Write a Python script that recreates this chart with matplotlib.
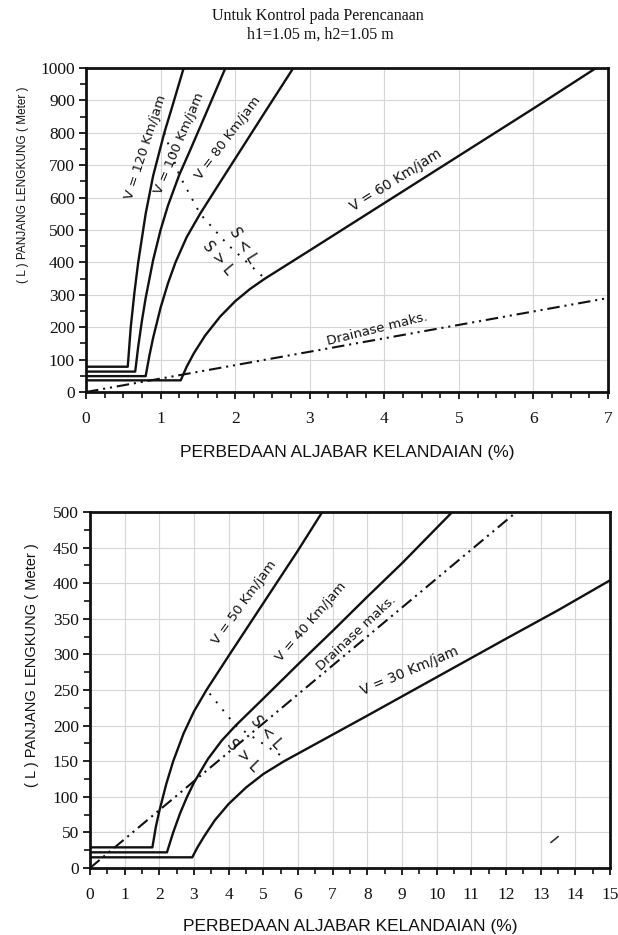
import matplotlib
matplotlib.use("Agg")
import matplotlib.pyplot as plt
from matplotlib.ticker import MultipleLocator

plt.rcParams['lines.scale_dashes'] = False

# ---------------- data ----------------
# Top chart: A (%) vs L (m)
v120_x = [0, 0.56, 0.60, 0.65, 0.70, 0.80, 0.90, 1.05, 1.15, 1.31]
v120_y = [78, 78, 200, 308, 400, 550, 667, 800, 876, 1000]
v100_x = [0, 0.66, 0.70, 0.75, 0.80, 0.90, 1.00, 1.10, 1.25, 1.40, 1.60, 1.87]
v100_y = [63, 63, 140, 220, 290, 407, 500, 576, 670, 748, 855, 1000]
v80_x = [0, 0.80, 0.85, 0.90, 1.00, 1.10, 1.20, 1.35, 1.53, 1.80, 2.10, 2.40, 2.78]
v80_y = [49, 49, 112, 167, 260, 336, 400, 478, 550, 648, 756, 864, 1000]
v60_x = [0, 1.27, 1.35, 1.45, 1.60, 1.80, 2.00, 2.20, 2.40, 3.00, 4.00, 5.00, 6.00, 6.84]
v60_y = [36, 36, 78, 121, 175, 233, 280, 318, 350, 437, 583, 729, 875, 1000]
drain_top_x = [0, 7]
drain_top_y = [0, 290]
sl_top_x = [1.05, 1.25, 1.53, 1.90, 2.40]
sl_top_y = [800, 670, 550, 455, 350]

# Bottom chart
v50_x = [0, 1.80, 1.90, 2.00, 2.20, 2.40, 2.70, 3.00, 3.36, 4.00, 5.00, 6.00, 6.70]
v50_y = [29, 29, 58, 80, 118, 150, 189, 220, 250, 298, 372, 446, 500]
v40_x = [0, 2.22, 2.40, 2.60, 2.80, 3.00, 3.40, 3.80, 4.20, 5.00, 6.00, 7.00, 8.00, 9.00, 10.45]
v40_y = [22, 22, 50, 77, 100, 120, 153, 179, 200, 238, 286, 333, 381, 428, 500]
v30_x = [0, 2.95, 3.10, 3.30, 3.60, 4.00, 4.50, 5.00, 5.60, 6.50, 8.00, 10.0, 12.0, 13.5, 15.0]
v30_y = [15, 15, 29, 45, 67, 90, 113, 132, 150, 174, 214, 268, 322, 362, 404]
drain_bot_x = [0, 12.3]
drain_bot_y = [0, 500]
sl_bot_x = [3.45, 4.20, 5.60]
sl_bot_y = [245, 200, 155]
mark_x = [13.3, 13.5]
mark_y = [36, 44]

x_ticks_top = [0, 1, 2, 3, 4, 5, 6, 7]
y_ticks_top = [0, 100, 200, 300, 400, 500, 600, 700, 800, 900, 1000]
x_ticks_bot = list(range(0, 16))
y_ticks_bot = [0, 50, 100, 150, 200, 250, 300, 350, 400, 450, 500]

title_lines = ["Untuk Kontrol pada Perencanaan", "h1=1.05 m, h2=1.05 m"]
xlabel = "PERBEDAAN ALJABAR KELANDAIAN (%)"
ylabel = "( L ) PANJANG LENGKUNG ( Meter )"

# ---------------- figure ----------------
W, H = 618, 935
fig = plt.figure(figsize=(W / 100, H / 100), dpi=100)
fig.patch.set_facecolor('white')

def ax_rect(l, t, r, b):
    return [l / W, 1 - b / H, (r - l) / W, (b - t) / H]

ax1 = fig.add_axes(ax_rect(86, 68, 608, 392))
ax2 = fig.add_axes(ax_rect(90, 512, 610, 868))

SERIF = ['Liberation Serif', 'DejaVu Serif']
SANS = ['Liberation Sans', 'DejaVu Sans']
LBL = ['DejaVu Sans']

drain_ls = (0, (9, 3.5, 1.5, 3.5, 1.5, 3.5))
dot_ls = (0, (1.4, 6))
curve_kw = dict(color='#111111', lw=1.7, solid_joinstyle='round')

def style(ax, xmax, ymax, xminor, ymajor, yminor, xt, yt):
    ax.set_xlim(0, xmax)
    ax.set_ylim(0, ymax)
    ax.set_xticks(xt)
    ax.set_yticks(yt)
    ax.xaxis.set_minor_locator(MultipleLocator(xminor))
    ax.yaxis.set_minor_locator(MultipleLocator(yminor))
    ax.grid(True, which='major', color='#d6d6d6', lw=0.8)
    ax.set_axisbelow(True)
    for s in ax.spines.values():
        s.set_linewidth(2.0)
        s.set_color('#111111')
    ax.tick_params(axis='both', which='major', direction='out', length=5,
                   width=1.3, color='#111111')
    ax.tick_params(axis='both', which='minor', direction='out', length=4,
                   width=1.2, color='#111111')
    ax.tick_params(axis='x', which='major', pad=9)
    ax.tick_params(axis='y', which='major', pad=3)
    for lab in ax.get_xticklabels() + ax.get_yticklabels():
        lab.set_fontfamily(SERIF)
        lab.set_fontsize(12.5)
        lab.set_color('#111111')

# ---- top chart ----
style(ax1, 7, 1000, 0.25, 100, 50, x_ticks_top, y_ticks_top)
for xs, ys in [(v120_x, v120_y), (v100_x, v100_y), (v80_x, v80_y), (v60_x, v60_y)]:
    ax1.plot(xs, ys, **curve_kw)
ax1.plot(drain_top_x, drain_top_y, color='#111111', lw=1.5, ls=drain_ls)
ax1.plot(sl_top_x, sl_top_y, color='#111111', lw=1.4, ls=dot_ls)

def lab(ax, x, y, s, rot, size=9.5):
    ax.text(x, y, s, rotation=rot, rotation_mode='anchor', ha='center',
            va='center', fontsize=size, family=LBL, color='#111111')

lab(ax1, 0.80, 756, "V = 120 Km/jam", 72)
lab(ax1, 1.25, 768, "V = 100 Km/jam", 67)
lab(ax1, 1.90, 784, "V = 80 Km/jam", 53)
lab(ax1, 4.16, 654, "V = 60 Km/jam", 32, 10)
lab(ax1, 3.90, 194, "Drainase maks.", 14)
lab(ax1, 1.77, 413, "S > L", -50, 10.5)
lab(ax1, 2.11, 452, "S < L", -58, 10.5)

# ---- bottom chart ----
style(ax2, 15, 500, 0.5, 50, 25, x_ticks_bot, y_ticks_bot)
for xs, ys in [(v50_x, v50_y), (v40_x, v40_y), (v30_x, v30_y)]:
    ax2.plot(xs, ys, **curve_kw)
ax2.plot(drain_bot_x, drain_bot_y, color='#111111', lw=1.5, ls=drain_ls)
ax2.plot(sl_bot_x, sl_bot_y, color='#111111', lw=1.4, ls=dot_ls)
ax2.plot(mark_x, mark_y, color='#333333', lw=1.2)

lab(ax2, 4.44, 373, "V = 50 Km/jam", 54)
lab(ax2, 6.39, 346, "V = 40 Km/jam", 49)
lab(ax2, 7.69, 330, "Drainase maks.", 43)
lab(ax2, 9.23, 276, "V = 30 Km/jam", 23, 10)
lab(ax2, 4.42, 158, "S > L", -45, 10.5)
lab(ax2, 5.10, 190, "S < L", -48, 10.5)

# ---- texts ----
fig.text(318 / W, 1 - 16 / H, title_lines[0], ha='center', va='center',
         fontsize=11.5, family=SERIF, color='#111111')
fig.text(320 / W, 1 - 35 / H, title_lines[1], ha='center', va='center',
         fontsize=11.5, family=SERIF, color='#111111')

fig.text(347 / W, 1 - 452 / H, xlabel, ha='center', va='center',
         fontsize=12.5, family=SANS, color='#111111')
fig.text(350 / W, 1 - 926 / H, xlabel, ha='center', va='center',
         fontsize=12.5, family=SANS, color='#111111')

fig.text(23 / W, 1 - 185 / H, ylabel, ha='center', va='center', rotation=90,
         fontsize=8.5, family=SANS, color='#111111')
fig.text(32 / W, 1 - 665 / H, ylabel, ha='center', va='center', rotation=90,
         fontsize=10.5, family=SANS, color='#111111')

fig.savefig("out.png", dpi=100, facecolor='white')
